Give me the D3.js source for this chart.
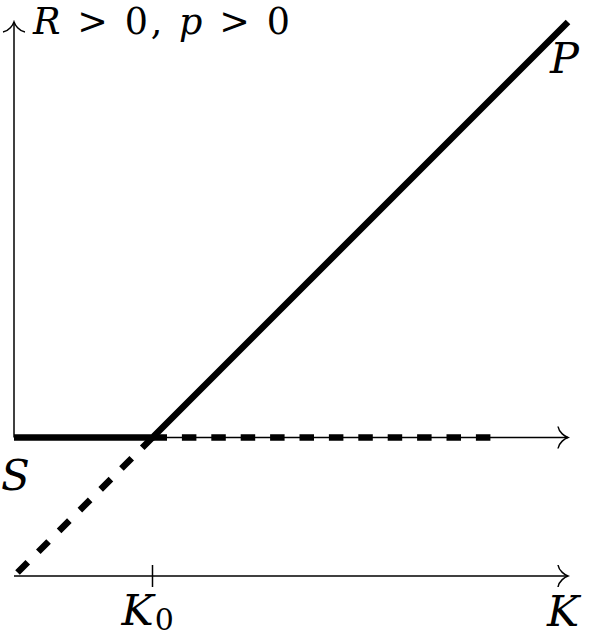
<!DOCTYPE html>
<html>
<head>
<meta charset="utf-8">
<script src="https://cdn.jsdelivr.net/npm/d3@7.9.0/dist/d3.min.js"></script>
<style>
  html, body { margin: 0; padding: 0; background: #fff; }
</style>
</head>
<body>
<svg id="chart" width="591" height="636"></svg>
<script>
// ================================
// Data (diagram coordinates: strike K, payoff value)
// ================================
const K0 = 1;
const kAxis = [0, 4];          // horizontal extent of both K axes
const vAxis = [0, 3];          // vertical axis extent
const lowerAxisLevel = -1;     // second (lower) K axis
const floorSeg = [[0, 0], [K0, 0]];
const payoffSeg = [[K0, 0], [4, 3]];
const flatDashed = [[K0, 0], [3.5, 0]];
const diagDashed = [[K0, 0], [0, -1]];

const FONT = "'DejaVu Serif', 'Liberation Serif', serif";

const svg = d3.select("#chart");
const x = d3.scaleLinear().domain([0, 4]).range([14, 568]);
const y = d3.scaleLinear().domain([-1, 3]).range([576, 22]);
const line = d3.line().x(d => x(d[0])).y(d => y(d[1]));

// ================================
// Arrow head (tikz "to" style)
// ================================
svg.append("defs").append("marker")
  .attr("id", "to")
  .attr("markerUnits", "userSpaceOnUse")
  .attr("viewBox", "-12 -13 14 26")
  .attr("markerWidth", 14).attr("markerHeight", 26)
  .attr("refX", 0).attr("refY", 0)
  .attr("orient", "auto")
  .append("path")
  .attr("d", "M-10,-11 C-9,-5 -3,-1 0,0 C-3,1 -9,5 -10,11")
  .attr("fill", "none").attr("stroke", "#000").attr("stroke-width", 1.5);

// ================================
// Axes
// ================================
const axisG = svg.append("g").attr("stroke", "#000").attr("stroke-width", 1.5).attr("fill", "none");
axisG.append("path").attr("d", line([[0, vAxis[0]], [0, vAxis[1]]])).attr("marker-end", "url(#to)");
axisG.append("path").attr("d", line([[kAxis[0], 0], [kAxis[1], 0]])).attr("marker-end", "url(#to)");
axisG.append("path").attr("d", line([[kAxis[0], lowerAxisLevel], [kAxis[1], lowerAxisLevel]])).attr("marker-end", "url(#to)");
axisG.append("line")
  .attr("x1", x(K0)).attr("x2", x(K0))
  .attr("y1", y(lowerAxisLevel) - 11).attr("y2", y(lowerAxisLevel) + 11);

// ================================
// Payoff lines
// ================================
const thick = svg.append("g").attr("stroke", "#000").attr("stroke-width", 6.5).attr("fill", "none");
thick.append("path").attr("d", line(flatDashed)).attr("stroke-dasharray", "14.5,14.9");
thick.append("path").attr("d", line(diagDashed)).attr("stroke-dasharray", "14.5,14.9");
thick.append("path").attr("d", line(floorSeg.concat([payoffSeg[1]])));

// ================================
// Labels
// ================================
const labels = svg.append("g").attr("font-family", FONT).attr("fill", "#000");

const t1 = labels.append("text").attr("x", 33).attr("y", 34).attr("font-size", 36.5)
  .attr("textLength", 257).attr("lengthAdjust", "spacing");
t1.append("tspan").attr("font-style", "italic").text("R");
t1.append("tspan").text(" > 0, ");
t1.append("tspan").attr("font-style", "italic").text("p");
t1.append("tspan").text(" > 0");

labels.append("text").attr("font-style", "italic").attr("font-size", 43)
  .attr("x", 550).attr("y", 73).text("P");
labels.append("text").attr("font-style", "italic").attr("font-size", 42)
  .attr("x", 1).attr("y", 490).text("S");

const k0 = labels.append("text").attr("font-size", 43)
  .attr("x", x(K0) - 31).attr("y", 625);
k0.append("tspan").attr("font-style", "italic").text("K");
k0.append("tspan").attr("font-size", 30).attr("dx", 1).attr("dy", 5).text("0");

labels.append("text").attr("font-style", "italic").attr("font-size", 43)
  .attr("x", 547).attr("y", 626).text("K");
</script>
</body>
</html>
